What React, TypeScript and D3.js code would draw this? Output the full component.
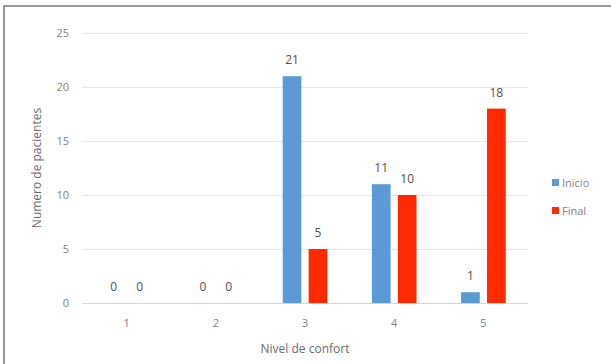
import React, { useEffect, useRef } from 'react'
import * as d3 from 'd3'

const levels = ['1', '2', '3', '4', '5']
const series = ['Inicio', 'Final']
const inicio = [0, 0, 21, 11, 1]
const final = [0, 0, 5, 10, 18]
const colors = ['#5b9bd5', '#ff2a00']
const yTicks = [0, 5, 10, 15, 20, 25]

export default function App() {
  const ref = useRef<SVGSVGElement>(null)

  useEffect(() => {
    const width = 611
    const height = 364
    const margin = { top: 33, right: 83, bottom: 61, left: 82 }

    const svg = d3.select(ref.current)
    svg.selectAll('*').remove()

    const font = "'Open Sans', 'Noto Sans', sans-serif"

    // frame (top and left edges visible in the source)
    svg.append('path')
      .attr('d', `M4,${height} V6 H${width}`)
      .attr('fill', 'none')
      .attr('stroke', '#7a7a7a')
      .attr('stroke-width', 1.6)

    const x0 = d3.scaleBand()
      .domain(levels)
      .range([margin.left, width - margin.right])

    const x1 = d3.scaleBand()
      .domain(series)
      .range([x0.bandwidth() * 0.25, x0.bandwidth() * 0.75])
      .paddingInner(0.28)

    const y = d3.scaleLinear()
      .domain([0, 25])
      .range([height - margin.bottom, margin.top])

    // gridlines
    svg.append('g')
      .selectAll('line')
      .data(yTicks)
      .join('line')
      .attr('x1', margin.left)
      .attr('x2', width - margin.right)
      .attr('y1', d => y(d) + 0.5)
      .attr('y2', d => y(d) + 0.5)
      .attr('stroke', d => d === 0 ? '#d4d4d4' : '#e6e6e6')
      .attr('stroke-width', 1)

    // y tick labels
    svg.append('g')
      .selectAll('text')
      .data(yTicks)
      .join('text')
      .attr('x', 69)
      .attr('y', d => y(d))
      .attr('dy', '0.35em')
      .attr('text-anchor', 'end')
      .attr('font-family', font)
      .attr('font-size', 11)
      .attr('fill', '#7f7f7f')
      .text(d => d)

    // x tick labels
    svg.append('g')
      .selectAll('text')
      .data(levels)
      .join('text')
      .attr('x', d => x0(d)! + x0.bandwidth() / 2)
      .attr('y', 327)
      .attr('text-anchor', 'middle')
      .attr('font-family', font)
      .attr('font-size', 11)
      .attr('fill', '#7f7f7f')
      .text(d => d)

    const rows = levels.map((lvl, i) => ({ lvl, values: [inicio[i], final[i]] }))

    const groups = svg.append('g')
      .selectAll('g')
      .data(rows)
      .join('g')
      .attr('transform', d => `translate(${x0(d.lvl)},0)`)

    groups.selectAll('rect')
      .data(d => d.values.map((v, j) => ({ key: series[j], v, j })))
      .join('rect')
      .attr('x', d => x1(d.key)!)
      .attr('width', x1.bandwidth())
      .attr('y', d => y(d.v))
      .attr('height', d => y(0) - y(d.v))
      .attr('fill', d => colors[d.j])

    groups.selectAll('text')
      .data(d => d.values.map((v, j) => ({ key: series[j], v, j })))
      .join('text')
      .attr('x', d => x1(d.key)! + x1.bandwidth() / 2)
      .attr('y', d => y(d.v) - 12)
      .attr('text-anchor', 'middle')
      .attr('font-family', font)
      .attr('font-size', 12)
      .attr('fill', '#505050')
      .text(d => d.v)

    // axis titles
    svg.append('text')
      .attr('x', x0.range()[0] + (x0.range()[1] - x0.range()[0]) / 2)
      .attr('y', 353)
      .attr('text-anchor', 'middle')
      .attr('font-family', font)
      .attr('font-size', 12)
      .attr('fill', '#6a6a6a')
      .text('Nivel de confort')

    svg.append('text')
      .attr('transform', `translate(41,${(y(0) + y(25)) / 2}) rotate(-90)`)
      .attr('text-anchor', 'middle')
      .attr('font-family', font)
      .attr('font-size', 12)
      .attr('fill', '#6a6a6a')
      .text('Numero de pacientes')

    // legend
    const legend = svg.append('g')
      .selectAll('g')
      .data(series)
      .join('g')
      .attr('transform', (d, i) => `translate(552,${183 + i * 28})`)

    legend.append('rect')
      .attr('x', 0).attr('y', -4)
      .attr('width', 7).attr('height', 7)
      .attr('fill', (d, i) => colors[i])

    legend.append('text')
      .attr('x', 10)
      .attr('dy', '0.35em')
      .attr('font-family', font)
      .attr('font-size', 11)
      .attr('fill', '#7f7f7f')
      .text(d => d)
  }, [])

  return (
    <svg ref={ref} width={611} height={364} style={{ position: 'absolute', left: 0, top: 0 }} />
  )
}
